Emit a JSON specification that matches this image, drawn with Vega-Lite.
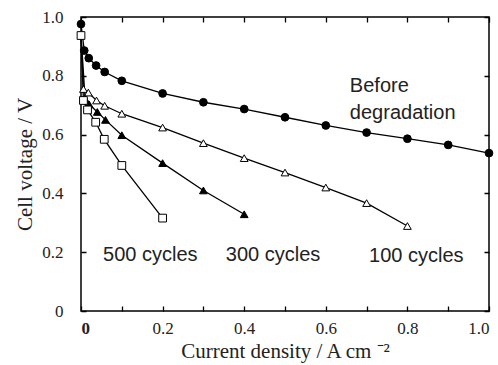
{
  "$schema": "https://vega.github.io/schema/vega-lite/v6.json",
  "width": 408,
  "height": 294,
  "autosize": {"type": "none"},
  "padding": {"left": 81, "top": 17, "right": 9, "bottom": 54},
  "config": {
    "view": {"stroke": "black", "strokeWidth": 1.5},
    "axis": {
      "domain": false,
      "ticks": false,
      "grid": true,
      "gridColor": "black",
      "gridOpacity": 1,
      "gridWidth": 1.3,
      "labelFont": "Liberation Serif",
      "labelFontSize": 17,
      "labelColor": "#222",
      "titleFont": "Liberation Serif",
      "titleFontSize": 21,
      "titleFontWeight": "normal",
      "titleColor": "#222"
    }
  },
  "datasets": {
    "curves": [
      {"s": "Before", "x": 0, "y": 0.976},
      {"s": "Before", "x": 0.008, "y": 0.886},
      {"s": "Before", "x": 0.019, "y": 0.86},
      {"s": "Before", "x": 0.037, "y": 0.835},
      {"s": "Before", "x": 0.058, "y": 0.813},
      {"s": "Before", "x": 0.1, "y": 0.783},
      {"s": "Before", "x": 0.2, "y": 0.74},
      {"s": "Before", "x": 0.3, "y": 0.71},
      {"s": "Before", "x": 0.4, "y": 0.687},
      {"s": "Before", "x": 0.5, "y": 0.659},
      {"s": "Before", "x": 0.6, "y": 0.631},
      {"s": "Before", "x": 0.7, "y": 0.607},
      {"s": "Before", "x": 0.8, "y": 0.586},
      {"s": "Before", "x": 0.9, "y": 0.565},
      {"s": "Before", "x": 1.0, "y": 0.537},
      {"s": "100", "x": 0, "y": 0.94},
      {"s": "100", "x": 0.006, "y": 0.755},
      {"s": "100", "x": 0.018, "y": 0.743},
      {"s": "100", "x": 0.038, "y": 0.716},
      {"s": "100", "x": 0.058, "y": 0.698},
      {"s": "100", "x": 0.1, "y": 0.671},
      {"s": "100", "x": 0.2, "y": 0.624},
      {"s": "100", "x": 0.3, "y": 0.571},
      {"s": "100", "x": 0.4, "y": 0.52},
      {"s": "100", "x": 0.5, "y": 0.471},
      {"s": "100", "x": 0.6, "y": 0.42},
      {"s": "100", "x": 0.7, "y": 0.367},
      {"s": "100", "x": 0.8, "y": 0.289},
      {"s": "300", "x": 0, "y": 0.94},
      {"s": "300", "x": 0.01, "y": 0.722},
      {"s": "300", "x": 0.02, "y": 0.703},
      {"s": "300", "x": 0.04, "y": 0.677},
      {"s": "300", "x": 0.06, "y": 0.65},
      {"s": "300", "x": 0.1, "y": 0.598},
      {"s": "300", "x": 0.2, "y": 0.503},
      {"s": "300", "x": 0.3, "y": 0.41},
      {"s": "300", "x": 0.4, "y": 0.329},
      {"s": "500", "x": 0, "y": 0.937},
      {"s": "500", "x": 0.006, "y": 0.716},
      {"s": "500", "x": 0.016, "y": 0.684},
      {"s": "500", "x": 0.036, "y": 0.642},
      {"s": "500", "x": 0.057, "y": 0.584},
      {"s": "500", "x": 0.1, "y": 0.495},
      {"s": "500", "x": 0.2, "y": 0.316}
    ],
    "labels": [
      {"x": 0.659, "y": 0.746, "t": "Before"},
      {"x": 0.659, "y": 0.654, "t": "degradation"},
      {"x": 0.054, "y": 0.17, "t": "500 cycles"},
      {"x": 0.355, "y": 0.17, "t": "300 cycles"},
      {"x": 0.706, "y": 0.168, "t": "100 cycles"}
    ]
  },
  "layer": [
    {
      "data": {"name": "curves"},
      "mark": {"type": "line", "color": "black", "strokeWidth": 1.3},
      "encoding": {
        "x": {
          "field": "x", "type": "quantitative",
          "scale": {"domain": [0, 1], "nice": false},
          "axis": {
            "orient": "bottom",
            "values": [0, 0.1, 0.2, 0.3, 0.4, 0.5, 0.6, 0.7, 0.8, 0.9, 1.0],
            "labelExpr": "datum.value == 0 ? '0' : (round(datum.value * 10) % 2 == 0 ? format(datum.value, '.1f') : '')",
            "labelFontWeight": {"condition": {"test": "datum.value == 0", "value": "bold"}, "value": "normal"},
            "labelPadding": 9,
            "gridDash": [5, 284, 5, 1000],
            "title": "Current density / A cm ⁻²",
            "titlePadding": 4
          }
        },
        "y": {
          "field": "y", "type": "quantitative",
          "scale": {"domain": [0, 1], "nice": false},
          "axis": {
            "orient": "left",
            "values": [0, 0.1, 0.2, 0.3, 0.4, 0.5, 0.6, 0.7, 0.8, 0.9, 1.0],
            "labelExpr": "datum.value == 0 ? '0' : (round(datum.value * 10) % 2 == 0 ? format(datum.value, '.1f') : '')",
            "labelPadding": 18,
            "gridDash": [5, 398, 5, 1000],
            "title": "Cell voltage / V",
            "titlePadding": 6
          }
        },
        "detail": {"field": "s"},
        "order": {"field": "x", "type": "quantitative"}
      }
    },
    {
      "data": {"name": "curves"},
      "transform": [{"filter": "datum.x > 0 || datum.s == 'Before' || datum.s == '500'"}],
      "mark": {"type": "point", "filled": true, "size": 60, "stroke": "black", "strokeWidth": 1, "opacity": 1},
      "encoding": {
        "x": {"field": "x", "type": "quantitative"},
        "y": {"field": "y", "type": "quantitative"},
        "shape": {
          "field": "s", "type": "nominal", "legend": null,
          "scale": {"domain": ["Before", "100", "300", "500"], "range": ["circle", "triangle-up", "triangle-up", "square"]}
        },
        "fill": {
          "field": "s", "type": "nominal", "legend": null,
          "scale": {"domain": ["Before", "100", "300", "500"], "range": ["black", "white", "black", "white"]}
        }
      }
    },
    {
      "data": {"name": "labels"},
      "mark": {"type": "text", "align": "left", "baseline": "alphabetic", "font": "Liberation Sans", "fontSize": 20, "color": "#222"},
      "encoding": {
        "x": {"field": "x", "type": "quantitative"},
        "y": {"field": "y", "type": "quantitative"},
        "text": {"field": "t"}
      }
    }
  ]
}
